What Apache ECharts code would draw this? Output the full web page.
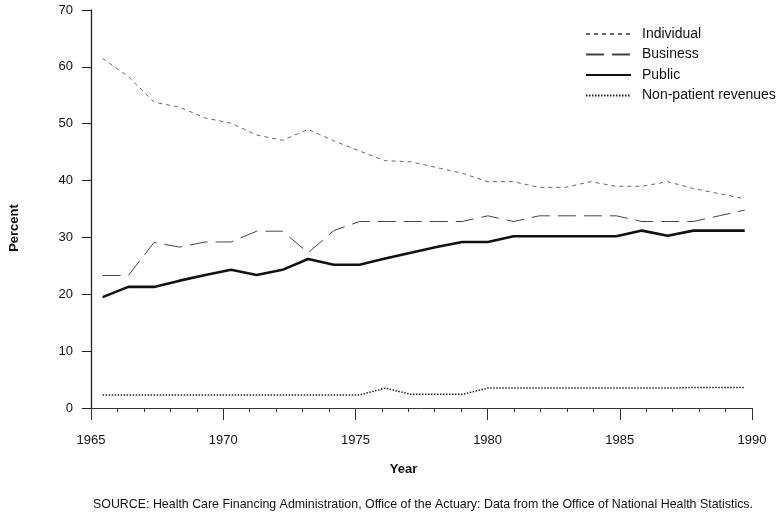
<!DOCTYPE html>
<html>
<head>
<meta charset="utf-8">
<script src="https://cdn.jsdelivr.net/npm/echarts@6/dist/echarts.min.js"></script>
<style>html,body{margin:0;padding:0;background:#fff}#c{width:783px;height:513px}</style>
</head>
<body>
<div id="c"></div>
<script>
const years = [1965,1966,1967,1968,1969,1970,1971,1972,1973,1974,1975,1976,1977,1978,1979,1980,1981,1982,1983,1984,1985,1986,1987,1988,1989,1990];
const individual = [61.5,58.3,53.8,52.9,51.0,50.1,48.0,47.1,49.0,47.0,45.2,43.5,43.3,42.3,41.3,39.8,39.8,38.8,38.8,39.8,39.0,39.0,39.8,38.6,37.7,36.8];
const business = [23.3,23.3,29.1,28.3,29.2,29.2,31.1,31.1,27.3,31.2,32.8,32.8,32.8,32.8,32.8,33.8,32.8,33.8,33.8,33.8,33.8,32.8,32.8,32.8,33.8,34.8];
const publicRev = [19.5,21.3,21.3,22.4,23.4,24.3,23.4,24.3,26.2,25.2,25.2,26.3,27.3,28.3,29.2,29.2,30.2,30.2,30.2,30.2,30.2,31.2,30.3,31.2,31.2,31.2];
const nonPatient = [2.3,2.3,2.3,2.3,2.3,2.3,2.3,2.3,2.3,2.3,2.3,3.5,2.4,2.4,2.4,3.5,3.5,3.5,3.5,3.5,3.5,3.5,3.5,3.6,3.6,3.6];
const seriesNames = ['Individual','Business','Public','Non-patient revenues'];
const yTicks = [0,10,20,30,40,50,60,70];
const xTicks = [1965,1970,1975,1980,1985,1990];
const sourceText = 'SOURCE: Health Care Financing Administration, Office of the Actuary: Data from the Office of National Health Statistics.';

const FONT = '"Liberation Sans", Arial, Helvetica, sans-serif';
const pair = arr => years.map((y,i)=>[y,arr[i]]);

const chart = echarts.init(document.getElementById('c'), null, {renderer:'canvas'});
chart.setOption({
  animation:false,
  backgroundColor:'#fff',
  textStyle:{fontFamily:FONT, color:'#111'},
  title:{
    text: sourceText, left: 88, top: 494,
    textStyle:{fontFamily:FONT, fontSize:12.4, fontWeight:'normal', color:'#111'}
  },
  legend:{
    orient:'vertical', left:580, top:22, itemWidth:45, itemHeight:14, itemGap:6.5,
    itemStyle:{opacity:0},
    textStyle:{fontFamily:FONT, fontSize:14, color:'#111', padding:[0,0,0,6]},
    data: seriesNames
  },
  grid:{left:88, right:31, top:10, bottom:105},
  xAxis:[{
    type:'value', min:xTicks[0], max:xTicks[xTicks.length-1], interval:5,
    name:'Year', nameLocation:'middle', nameGap:55,
    nameTextStyle:{fontFamily:FONT, fontSize:13, fontWeight:'bold', color:'#111', padding:[0,36,0,0]},
    axisLine:{show:true, onZero:false, lineStyle:{color:'#333', width:1}},
    axisTick:{show:true, length:12, lineStyle:{color:'#333', width:1}},
    minorTick:{show:true, splitNumber:5, length:4, lineStyle:{color:'#333', width:1}},
    splitLine:{show:false},
    axisLabel:{fontFamily:FONT, fontSize:13, color:'#111', margin:26, formatter: v => String(v)}
  },{
    type:'value', min:1964.547, max:1990.283, show:false
  }],
  yAxis:{
    type:'value', min:yTicks[0], max:yTicks[yTicks.length-1], interval:10,
    name:'Percent', nameLocation:'middle', nameGap:70, nameRotate:90,
    nameTextStyle:{fontFamily:FONT, fontSize:13, fontWeight:'bold', color:'#111', padding:[0,38,0,0]},
    axisLine:{show:true, lineStyle:{color:'#222', width:1.3}},
    axisTick:{show:true, length:9, lineStyle:{color:'#222', width:1}},
    splitLine:{show:false},
    axisLabel:{fontFamily:FONT, fontSize:13, color:'#111', margin:18}
  },
  series:[
    {name:seriesNames[0], type:'line', xAxisIndex:1, symbol:'none', data:pair(individual),
     lineStyle:{color:'#666', width:1, type:[4,4]}, itemStyle:{color:'#666'}},
    {name:seriesNames[1], type:'line', xAxisIndex:1, symbol:'none', data:pair(business),
     lineStyle:{color:'#444', width:1, type:[18,8]}, itemStyle:{color:'#444'}},
    {name:seriesNames[2], type:'line', xAxisIndex:1, symbol:'none', data:pair(publicRev),
     lineStyle:{color:'#111', width:2.6}, itemStyle:{color:'#111'}},
    {name:seriesNames[3], type:'line', xAxisIndex:1, symbol:'none', data:pair(nonPatient),
     lineStyle:{color:'#222', width:1.5, type:[1.5,1.5]}, itemStyle:{color:'#222'}}
  ]
});
</script>
</body>
</html>
